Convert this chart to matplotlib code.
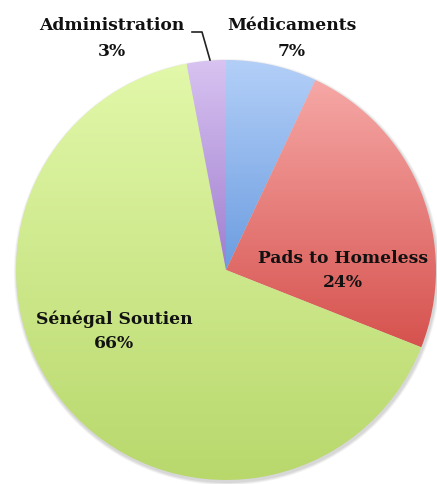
import numpy as np
import matplotlib
matplotlib.use("Agg")
import matplotlib.pyplot as plt
from matplotlib.colors import LinearSegmentedColormap
from matplotlib.patches import Circle

labels = ["Médicaments", "Pads to Homeless", "Sénégal Soutien", "Administration"]
shares = [7, 24, 66, 3]
topColors = ["#b3cff8", "#f6a8a6", "#e2f8aa", "#d8c3f1"]
bottomColors = ["#6c9de0", "#d6524e", "#b8d86c", "#9f7dcf"]

W, H = 437, 484
fig = plt.figure(figsize=(W / 100, H / 100), dpi=100)
ax = fig.add_axes([0, 0, 1, 1])

cx, cy, r = 226, H - 270, 210

# soft shadow under the pie
for k, a in enumerate([0.05, 0.05, 0.06]):
    ax.add_patch(Circle((cx + 1, cy - 2), r + 3 - k, color="black", alpha=a, lw=0, zorder=0))

wedges, _ = ax.pie(shares, startangle=90, counterclock=False,
                   center=(cx, cy), radius=r, frame=True,
                   wedgeprops=dict(linewidth=0))
ax.set_xlim(0, W)
ax.set_ylim(0, H)
ax.set_aspect("equal")
ax.axis("off")

# vertical gradient fill per wedge
for w, c0, c1 in zip(wedges, topColors, bottomColors):
    ext = w.get_path().get_extents()
    cmap = LinearSegmentedColormap.from_list("g", [c1, c0])
    grad = np.linspace(0, 1, 256).reshape(-1, 1)
    im = ax.imshow(grad, cmap=cmap, origin="lower", aspect="auto",
                   extent=[ext.x0, ext.x1, ext.y0, ext.y1], zorder=2)
    im.set_clip_path(w)
    w.set_facecolor("none")

font = dict(family="DejaVu Serif", weight="bold", fontsize=12.3, color="#111111",
            ha="center", va="center", zorder=5)
pos = [(292, 38.5), (343, 270.5), (114, 331.5), (112, 38.5)]
spacing = [1.75, 1.5, 1.5, 1.75]
for lab, val, (x, y), ls in zip(labels, shares, pos, spacing):
    ax.text(x, H - y, f"{lab}\n{val}%", linespacing=ls, **font)

# leader line for Administration
ax.plot([192, 202, 210], [H - 32, H - 32, H - 60], color="#222222", lw=1.2, zorder=5)

fig.savefig("out.png", dpi=100)
